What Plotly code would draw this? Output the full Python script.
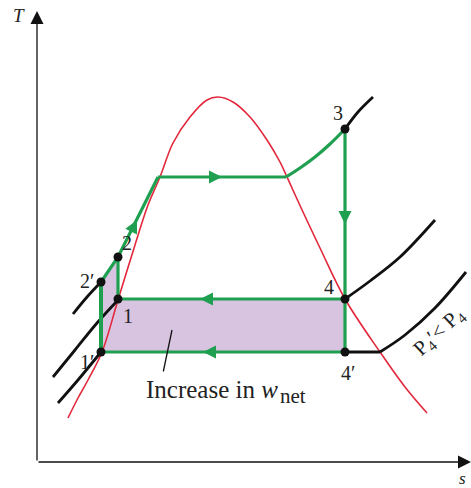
import plotly.graph_objects as go

# ---- diagram data (s, T in picture units; T axis drawn top-down) ----
dome_s = [68, 78, 88, 102, 118, 135, 148, 160, 173, 190, 207, 218, 233, 250, 267, 280, 287, 297, 320, 345, 380, 405, 427]
dome_T = [418, 398, 380, 352, 300, 245, 205, 177, 143, 117, 100, 97, 102, 117, 140, 162, 177, 199, 248, 299, 352, 387, 413]

# isobars
p3_s = [345, 358, 373]
p3_T = [129, 112, 97]
p2p_s = [73, 87, 101]
p2p_T = [314, 297, 282]
p4_left_s = [53, 75, 97, 118]
p4_left_T = [377, 350, 323, 300]
p4_right_s = [345, 370, 400, 435]
p4_right_T = [299, 281, 257, 220]
p4p_left_s = [58, 78, 101]
p4p_left_T = [403, 380, 352]
p4p_flat_s = [345, 380]
p4p_flat_T = [352, 352]
p4p_right_s = [380, 405, 435, 466]
p4p_right_T = [352, 335, 308, 272]

# cycle state points
state_names = ["1′", "1", "2′", "2", "3", "4", "4′"]
state_s = [101, 118, 101, 118, 345, 345, 345]
state_T = [352, 299, 282, 257, 129, 299, 352]

# boiler path: saturated liquid -> saturated vapour -> 3
boil_flat_s = [158, 286]
boil_flat_T = [177, 177]
superheat_s = [286, 300, 315, 330, 345]
superheat_T = [177, 168, 157, 144, 129]

# label positions
lab_s = [87, 128, 87, 127, 338, 329, 348]
lab_T = [362, 316, 281, 243, 113, 287, 373]

GREEN = "#1fa050"
RED = "#e3283c"
BLACK = "#111111"
PURPLE = "rgba(216,196,224,1)"
FONT = "Liberation Serif"

fig = go.Figure()

pt = dict(zip(state_names, zip(state_s, state_T)))

# shaded area (increase in net work)
poly = ["1′", "2′", "2", "1", "4", "4′", "1′"]
fig.add_trace(go.Scatter(x=[pt[n][0] for n in poly], y=[pt[n][1] for n in poly],
                         fill="toself", fillcolor=PURPLE, mode="lines",
                         line=dict(width=0), hoverinfo="skip"))

# dome
fig.add_trace(go.Scatter(x=dome_s, y=dome_T, mode="lines",
                         line=dict(color=RED, width=1.6, shape="spline"), hoverinfo="skip"))

# isobars
for xs, ys in [(p3_s, p3_T), (p2p_s, p2p_T), (p4_left_s, p4_left_T),
               (p4_right_s, p4_right_T), (p4p_left_s, p4p_left_T),
               (p4p_flat_s, p4p_flat_T), (p4p_right_s, p4p_right_T)]:
    fig.add_trace(go.Scatter(x=xs, y=ys, mode="lines",
                             line=dict(color=BLACK, width=2.8, shape="spline"), hoverinfo="skip"))

# green cycle lines
def seg(names, width=3.2):
    fig.add_trace(go.Scatter(x=[pt[n][0] for n in names], y=[pt[n][1] for n in names],
                             mode="lines", line=dict(color=GREEN, width=width), hoverinfo="skip"))

seg(["1", "2"])
seg(["1′", "2′"], 4)
seg(["4", "1"])
seg(["4′", "1′"])
seg(["3", "4′"])
fig.add_trace(go.Scatter(x=[pt["2′"][0], pt["2"][0], boil_flat_s[0]],
                         y=[pt["2′"][1], pt["2"][1], boil_flat_T[0]],
                         mode="lines", line=dict(color=GREEN, width=3.2), hoverinfo="skip"))
fig.add_trace(go.Scatter(x=boil_flat_s, y=boil_flat_T, mode="lines",
                         line=dict(color=GREEN, width=3.2), hoverinfo="skip"))
fig.add_trace(go.Scatter(x=superheat_s, y=superheat_T, mode="lines",
                         line=dict(color=GREEN, width=3.2, shape="spline"), hoverinfo="skip"))

# state dots
fig.add_trace(go.Scatter(x=state_s, y=state_T, mode="markers",
                         marker=dict(color=BLACK, size=9), hoverinfo="skip"))

ann = []
# direction arrows on the cycle
arrows = [((222, 177), (208, 177)), ((345, 224), (345, 210)), ((200, 299), (214, 299)),
          ((203, 352), (217, 352)), ((137, 220), (131, 232))]
for (hx, hy), (tx, ty) in arrows:
    ann.append(dict(x=hx, y=hy, ax=tx, ay=ty, xref="x", yref="y", axref="x", ayref="y",
                    showarrow=True, arrowhead=2, arrowsize=1.0, arrowwidth=2.6,
                    arrowcolor=GREEN, text=""))

# axes
ann.append(dict(x=37, y=11, ax=37, ay=462, xref="x", yref="y", axref="x", ayref="y",
                showarrow=True, arrowhead=2, arrowsize=2.0, arrowwidth=1.3, arrowcolor=BLACK, text=""))
ann.append(dict(x=471, y=462, ax=37, ay=462, xref="x", yref="y", axref="x", ayref="y",
                showarrow=True, arrowhead=2, arrowsize=2.0, arrowwidth=1.3, arrowcolor=BLACK, text=""))
ann.append(dict(x=19, y=15, text="<i>T</i>", showarrow=False, font=dict(family=FONT, size=19, color="#222")))
ann.append(dict(x=462, y=478, text="<i>s</i>", showarrow=False, font=dict(family=FONT, size=17, color="#222")))

# state labels
for n, x, y in zip(state_names, lab_s, lab_T):
    ann.append(dict(x=x, y=y, text=n, showarrow=False, font=dict(family=FONT, size=20, color="#222")))

# leader line for the shaded area
ann.append(dict(x=172, y=330, ax=163, ay=373, xref="x", yref="y", axref="x", ayref="y",
                showarrow=True, arrowhead=0, arrowwidth=1.3, arrowcolor=BLACK, text=""))
ann.append(dict(x=144, y=389, text="Increase in <i>w</i>", showarrow=False, xanchor="left",
                font=dict(family=FONT, size=25, color="#222")))
ann.append(dict(x=278, y=396, text="net", showarrow=False, xanchor="left",
                font=dict(family=FONT, size=21, color="#222")))
ann.append(dict(x=439, y=332, text="P<sub>4</sub>′< P<sub>4</sub>", showarrow=False, textangle=-43,
                font=dict(family=FONT, size=21, color="#222")))

fig.update_layout(width=471, height=488, margin=dict(l=0, r=0, t=0, b=0),
                  paper_bgcolor="white", plot_bgcolor="white", showlegend=False,
                  annotations=ann,
                  xaxis=dict(range=[0, 471], visible=False, fixedrange=True),
                  yaxis=dict(range=[488, 0], visible=False, fixedrange=True))

fig.write_html("out.html", config={"displayModeBar": False},
               post_script="document.body.style.margin='0';document.body.style.overflow='hidden';")
